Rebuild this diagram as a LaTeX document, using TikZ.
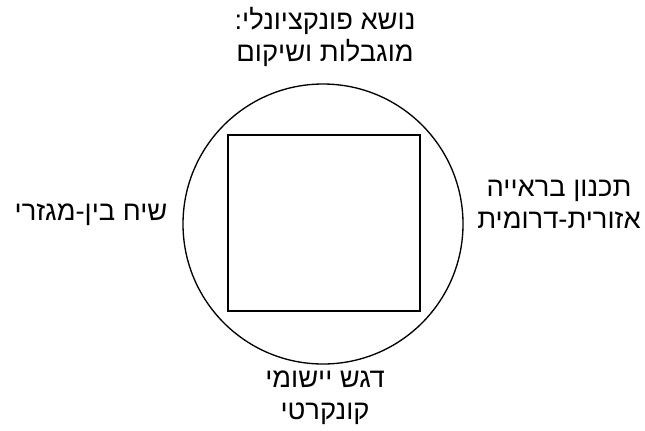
\documentclass[tikz,border=0pt]{standalone}
\usepackage{fontspec}
\setmainfont{Liberation Sans}
\newfontfamily\hebfont[Script=Hebrew]{Liberation Sans}
\TeXXeTstate=1
\usetikzlibrary{positioning}

\begin{document}
\begin{tikzpicture}[
    x={(0.75pt,0)}, y={(0,-0.75pt)},
    lbl/.style={align=center, font=\hebfont\fontsize{20.5}{24}\selectfont, inner sep=0pt}
  ]
    \useasboundingbox (0,0) rectangle (645,430);
    \node[draw, circle, line width=1pt, minimum size=210pt, inner sep=0pt] (ring) at (323,224) {};
    \node[draw, rectangle, line width=1.3pt, minimum width=144pt, minimum height=132pt,
          inner sep=0pt] (core) at (324,223) {};

    \node[lbl] (topic) at (325,37)
      {\beginR נושא פונקציונלי:\endR\\\beginR מוגבלות ושיקום\endR};
    \node[lbl] (focus) at (325,398)
      {\beginR דגש יישומי\endR\\\beginR קונקרטי\endR};
    \node[lbl] (dialog) at (91,215)
      {\beginR שיח בין-מגזרי\endR};
    \node[lbl] (region) at (559,204)
      {\beginR תכנון בראייה\endR\\\beginR אזורית-דרומית\endR};
  \end{tikzpicture}
\end{document}
